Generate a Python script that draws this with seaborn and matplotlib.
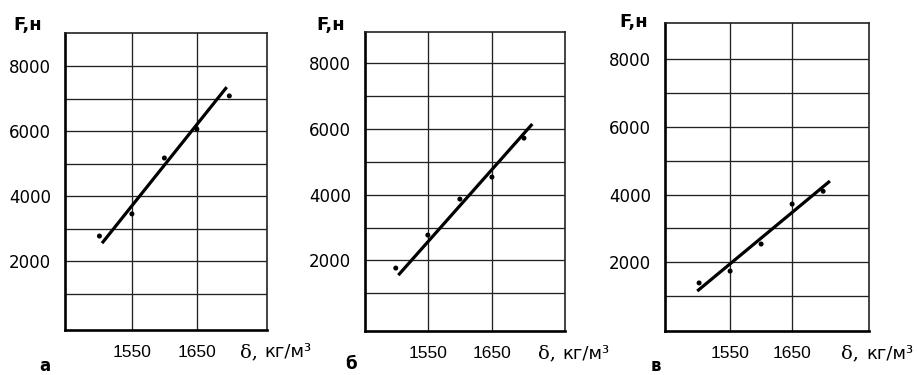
import matplotlib
matplotlib.use("Agg")
import matplotlib.pyplot as plt
import seaborn as sns
import pandas as pd
from matplotlib.transforms import offset_copy

# ---------------- data ----------------
density = [1500, 1550, 1600, 1650, 1700]
force_a = [2770, 3450, 5170, 6060, 7080]
force_b = [1765, 2770, 3865, 4535, 5720]
force_v = [1390, 1740, 2540, 3720, 4100]

fit_x_a = [1504, 1696]
fit_y_a = [2550, 7350]
fit_x_b = [1504, 1713]
fit_y_b = [1550, 6150]
fit_x_v = [1497, 1711]
fit_y_v = [1150, 4400]

x_ticks = [1550, 1650]
x_tick_labels = ["1550", "1650"]
y_ticks = [1000, 2000, 3000, 4000, 5000, 6000, 7000, 8000]
y_tick_labels = ["", "2000", "", "4000", "", "6000", "", "8000"]
panel_letters = ["а", "б", "в"]
y_title = "F,н"
x_title_sym = "δ,"
x_title_unit = "кг/м³"

# ---------------- style ----------------
sns.set_theme(style="white")
plt.rcParams['font.family'] = ['DejaVu Sans']

W, H = 919, 375
fig = plt.figure(figsize=(W / 100, H / 100), dpi=100)


def px_rect(l, t, r, b):
    return [l / W, 1 - b / H, (r - l) / W, (b - t) / H]


panels = [
    dict(rect=px_rect(65, 33, 267, 330), xlim=(1447, 1758), ylim=(-120, 9015),
         y=force_a, fx=fit_x_a, fy=fit_y_a, ftitle=(42, 25), letter=(45, 366)),
    dict(rect=px_rect(365, 32, 565, 331), xlim=(1452, 1764), ylim=(-150, 8950),
         y=force_b, fx=fit_x_b, fy=fit_y_b, ftitle=(345, 25), letter=(351, 364)),
    dict(rect=px_rect(665, 23, 869, 331), xlim=(1445, 1774), ylim=(-30, 9070),
         y=force_v, fx=fit_x_v, fy=fit_y_v, ftitle=(648, 22), letter=(656, 366)),
]

for i, p in enumerate(panels):
    ax = fig.add_axes(p["rect"])
    pts = pd.DataFrame({"density": density, "force": p["y"]})
    fit = pd.DataFrame({"density": p["fx"], "force": p["fy"]})
    sns.lineplot(data=fit, x="density", y="force", ax=ax, color="black",
                 linewidth=2.3, solid_capstyle="butt", zorder=4)
    sns.scatterplot(data=pts, x="density", y="force", ax=ax, color="black",
                    s=13, edgecolor="none", zorder=5)
    ax.set_xlim(*p["xlim"])
    ax.set_ylim(*p["ylim"])
    ax.set_xticks(x_ticks, x_tick_labels)
    ax.set_yticks(y_ticks, y_tick_labels)
    ax.set_xlabel("")
    ax.set_ylabel("")
    ax.grid(True, color="#222222", linewidth=0.95)
    ax.set_axisbelow(True)
    for side in ["left", "bottom"]:
        ax.spines[side].set_linewidth(1.9)
        ax.spines[side].set_color("black")
    for side in ["top", "right"]:
        ax.spines[side].set_linewidth(1.2)
        ax.spines[side].set_color("#222222")
    ax.tick_params(axis="both", length=0)
    ax.tick_params(axis="y", pad=10, labelsize=12, labelcolor="black")
    ax.tick_params(axis="x", pad=11, labelsize=12.5, labelcolor="black")
    for lab in ax.get_xticklabels():
        lab.set_fontfamily("Liberation Sans")

    # x axis title: serif delta + sans unit
    tr = offset_copy(ax.transAxes, fig=fig, x=0, y=-22, units="dots")
    t1 = ax.text(0.865, 0, x_title_sym, transform=tr, ha="left", va="center",
                 fontsize=14, family="DejaVu Serif", color="black")
    ax.annotate(x_title_unit, xy=(1, 0), xycoords=t1, xytext=(5, 0),
                textcoords="offset points", ha="left", va="bottom",
                fontsize=13, family="DejaVu Sans", color="black",
                annotation_clip=False)

    # y axis title
    fx_, fy_ = p["ftitle"]
    fig.text(fx_ / W, 1 - fy_ / H, y_title, ha="right", va="center",
             fontsize=13, fontweight="bold", color="black")
    # panel letter
    lx, ly = p["letter"]
    fig.text(lx / W, 1 - ly / H, panel_letters[i], ha="center", va="center",
             fontsize=12, fontweight="bold", color="black")

fig.savefig("out.png", dpi=100, facecolor="white")
